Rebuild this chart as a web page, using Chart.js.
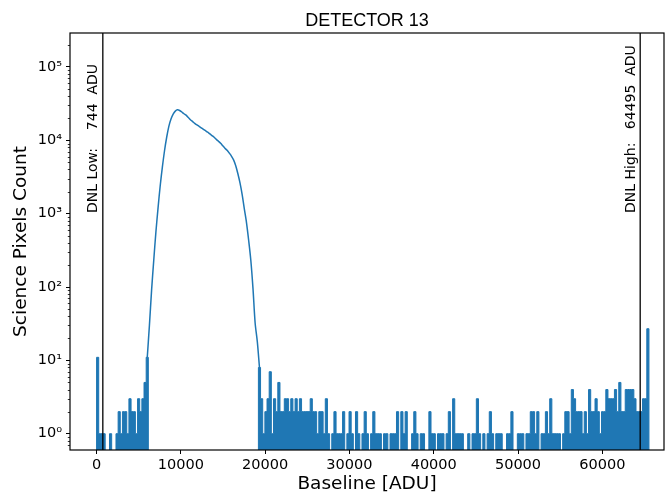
<!DOCTYPE html>
<html>
<head>
<meta charset="utf-8">
<title>DETECTOR 13</title>
<script src="https://cdn.jsdelivr.net/npm/chart.js@4.4.1/dist/chart.umd.min.js"></script>
<style>
    html, body { margin: 0; padding: 0; background: #fff; }
</style>
</head>
<body>
<canvas id="detector-hist" width="668" height="495"></canvas>

<script>
    // baseline histogram, 256 ADU wide bins starting at 0
    const binStart = 0;
    const binWidth = 256;
    const counts = [
        11, 1, 1, 1, 0, 0, 1, 0, 0, 1, 2, 1, 2, 2, 1, 3,
        2, 2, 1, 3, 2, 3, 5, 11, 30, 90, 230, 560, 1200, 2400, 4300, 7200,
        11000, 15500, 19500, 22800, 25000, 26000, 25500, 24300, 23000, 22000, 20500, 19000, 18000, 17000, 16200, 15500,
        14800, 14100, 13500, 12900, 12200, 11600, 11000, 10300, 9700, 9100, 8400, 7800, 7300, 6700, 6100, 5400,
        4500, 3500, 2600, 1800, 1150, 750, 430, 230, 95, 32, 18, 8, 3, 1, 2, 3,
        7, 1, 3, 2, 5, 2, 2, 3, 3, 2, 3, 2, 3, 2, 3, 2,
        2, 2, 2, 3, 2, 2, 1, 2, 2, 1, 3, 1, 0, 1, 2, 1,
        1, 1, 2, 0, 1, 2, 1, 0, 2, 1, 0, 1, 2, 1, 0, 1,
        2, 1, 1, 1, 0, 1, 1, 0, 1, 1, 1, 2, 0, 2, 1, 2,
        0, 0, 1, 2, 1, 0, 1, 1, 0, 0, 2, 1, 1, 0, 1, 1,
        1, 0, 1, 2, 0, 3, 1, 1, 1, 1, 0, 0, 1, 0, 1, 1,
        3, 1, 0, 1, 0, 1, 2, 1, 0, 1, 1, 1, 0, 0, 1, 1,
        2, 0, 0, 1, 1, 1, 0, 1, 1, 2, 2, 1, 2, 0, 1, 1,
        2, 1, 3, 1, 1, 1, 1, 0, 1, 2, 2, 1, 4, 3, 2, 2,
        2, 1, 2, 1, 4, 2, 2, 3, 2, 1, 2, 2, 4, 3, 3, 3,
        4, 2, 5, 2, 2, 4, 4, 4, 4, 3, 2, 2, 2, 3, 3, 27
    ];
    // first and last bin of the main peak (thin outline, the sparse bins look filled)
    const peakBins = [24, 74];

    const dnlLow = 744;
    const dnlHigh = 64495;
    const dnlLabels = ['DNL Low:    744  ADU', 'DNL High:   64495  ADU'];

    const xTicks = [0, 10000, 20000, 30000, 40000, 50000, 60000];
    const yTicks = [1, 10, 100, 1000, 10000, 100000];
    const xRange = [-3150, 67320];
    const yRange = [0.61, 290000];

    const blue = '#1f77b4';
    const emptyBin = 0.1;   // below the axis, so empty bins drop out of view
    const sup = {'0': '\u2070', '1': '\u00b9', '2': '\u00b2', '3': '\u00b3', '4': '\u2074', '5': '\u2075'};

    function stepPoints(vals) {
        const pts = [{x: binStart, y: emptyBin}];
        vals.forEach((v, i) => pts.push({x: binStart + i * binWidth, y: v > 0 ? v : emptyBin}));
        const end = binStart + vals.length * binWidth;
        pts.push({x: end, y: vals[vals.length - 1] || emptyBin});
        pts.push({x: end, y: emptyBin});
        return pts;
    }

    // sparse bins: everything outside the peak
    const sparseCounts = counts.map((c, i) => (i >= peakBins[0] && i <= peakBins[1]) ? 0 : c);
    // peak: drawn through the bin centres
    const peakPoints = [];
    for (let i = peakBins[0] - 1; i <= peakBins[1] + 1; i++) {
        peakPoints.push({x: binStart + (i + 0.5) * binWidth, y: counts[i]});
    }

    const decor = {
        id: 'decor',
        afterDatasetsDraw(chart) {
            const {ctx, chartArea: a, scales: {x, y}} = chart;
            ctx.save();
            ctx.strokeStyle = '#000';
            ctx.fillStyle = '#000';

            // minor log ticks
            ctx.lineWidth = 0.8;
            for (let e = -1; e <= 5; e++) {
                for (let k = 2; k <= 9; k++) {
                    const v = k * Math.pow(10, e);
                    if (v < yRange[0] || v > yRange[1]) continue;
                    const py = Math.round(y.getPixelForValue(v)) + 0.5;
                    ctx.beginPath();
                    ctx.moveTo(a.left - 2.2, py);
                    ctx.lineTo(a.left, py);
                    ctx.stroke();
                }
            }

            // DNL limits
            ctx.lineWidth = 1.3;
            [dnlLow, dnlHigh].forEach((v, i) => {
                const px = x.getPixelForValue(v);
                ctx.beginPath();
                ctx.moveTo(px, a.top);
                ctx.lineTo(px, a.bottom);
                ctx.stroke();

                ctx.save();
                ctx.translate(px - 9, a.top + 180);
                ctx.rotate(-Math.PI / 2);
                ctx.font = '14px "DejaVu Sans"';
                ctx.textAlign = 'left';
                ctx.textBaseline = 'middle';
                ctx.fillText(dnlLabels[i], 0, 0);
                ctx.restore();
            });

            // axes box
            ctx.lineWidth = 1.2;
            ctx.strokeRect(a.left, a.top, a.right - a.left, a.bottom - a.top);

            // titles
            const cx = (a.left + a.right) / 2;
            ctx.textAlign = 'center';
            ctx.textBaseline = 'alphabetic';
            ctx.font = '18px "Liberation Sans"';
            ctx.fillText('DETECTOR 13', cx, 25.5);
            ctx.font = '18.5px "DejaVu Sans"';
            ctx.fillText('Baseline [ADU]', cx, 489);
            ctx.save();
            ctx.translate(26, (a.top + a.bottom) / 2);
            ctx.rotate(-Math.PI / 2);
            ctx.fillText('Science Pixels Count', 0, 0);
            ctx.restore();

            ctx.restore();
        }
    };

    new Chart(document.getElementById('detector-hist').getContext('2d'), {
        type: 'line',
        data: {
            datasets: [
                {
                    data: stepPoints(sparseCounts),
                    stepped: 'before',
                    fill: 'start',
                    backgroundColor: blue,
                    borderColor: blue,
                    borderWidth: 1,
                    pointRadius: 0,
                    clip: 0
                },
                {
                    data: peakPoints,
                    fill: false,
                    borderColor: blue,
                    borderWidth: 1.5,
                    tension: 0.3,
                    pointRadius: 0,
                    clip: 0
                }
            ]
        },
        options: {
            responsive: false,
            animation: false,
            layout: {padding: {top: 33, right: 4, left: 0, bottom: 0}},
            plugins: {
                legend: {display: false},
                tooltip: {enabled: false},
                title: {display: false}
            },
            scales: {
                x: {
                    type: 'linear',
                    min: xRange[0],
                    max: xRange[1],
                    afterBuildTicks: s => { s.ticks = xTicks.map(v => ({value: v})); },
                    afterFit: s => { s.height = 45; },
                    grid: {display: true, drawOnChartArea: false, drawTicks: true, tickLength: 4, color: '#000', lineWidth: 1},
                    border: {display: false},
                    ticks: {
                        font: {family: 'DejaVu Sans', size: 14.5},
                        color: '#000',
                        padding: 3,
                        maxRotation: 0,
                        autoSkip: false,
                        callback: v => String(v)
                    }
                },
                y: {
                    type: 'logarithmic',
                    min: yRange[0],
                    max: yRange[1],
                    afterBuildTicks: s => { s.ticks = yTicks.map(v => ({value: v})); },
                    afterFit: s => { s.width = 70; },
                    grid: {display: true, drawOnChartArea: false, drawTicks: true, tickLength: 4, color: '#000', lineWidth: 1},
                    border: {display: false},
                    ticks: {
                        font: {family: 'DejaVu Sans', size: 14.5},
                        color: '#000',
                        padding: 4,
                        autoSkip: false,
                        callback: v => '10' + sup[String(Math.round(Math.log10(v)))]
                    }
                }
            }
        },
        plugins: [decor]
    });
</script>
</body>
</html>
